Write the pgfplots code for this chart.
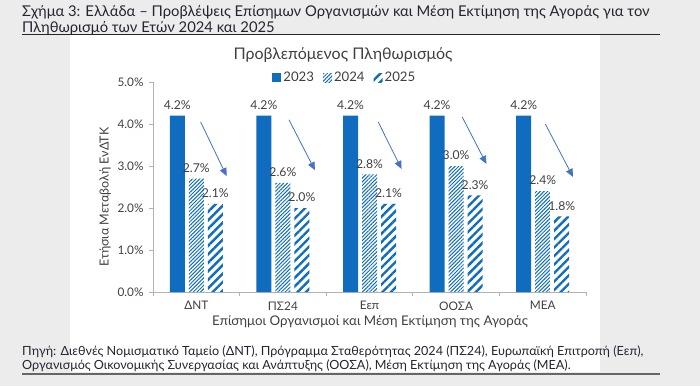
\documentclass[border=0pt]{standalone}
\usepackage{fontspec}
\setmainfont{Lato}
\usepackage{pgfplots}
\pgfplotsset{compat=1.18}
\usetikzlibrary{patterns.meta,arrows.meta}
\definecolor{barblue}{RGB}{16,108,190}
\definecolor{arrowblue}{RGB}{68,114,196}
\definecolor{bggray}{RGB}{236,236,236}
\definecolor{txtgray}{RGB}{64,64,64}
\definecolor{titletxt}{RGB}{35,38,48}
\begin{document}
\begin{tikzpicture}
\fill[bggray] (0pt,0pt) rectangle (700pt,386pt);
\fill[white] (70pt,14pt) rectangle (600pt,352pt);
\draw[black!85, line width=0.8pt] (22pt,352pt) -- (660pt,352pt);
\draw[black!60, line width=1.3pt] (22pt,12pt) -- (660pt,12pt);
\node[anchor=west, inner sep=0pt, text=titletxt, font=\fontsize{14.8}{16}\selectfont] at (22pt,374pt) {Σχήμα 3: Ελλάδα – Προβλέψεις Επίσημων Οργανισμών και Μέση Εκτίμηση της Αγοράς για τον};
\node[anchor=west, inner sep=0pt, text=titletxt, font=\fontsize{14.8}{16}\selectfont] at (22pt,358pt) {Πληθωρισμό των Ετών 2024 και 2025};
\node[anchor=west, inner sep=0pt, text=titletxt, font=\fontsize{12.6}{14}\selectfont] at (22pt,34pt) {Πηγή: Διεθνές Νομισματικό Ταμείο (ΔΝΤ), Πρόγραμμα Σταθερότητας 2024 (ΠΣ24), Ευρωπαϊκή Επιτροπή (Εεπ),};
\node[anchor=west, inner sep=0pt, text=titletxt, font=\fontsize{12.6}{14}\selectfont] at (22pt,20pt) {Οργανισμός Οικονομικής Συνεργασίας και Ανάπτυξης (ΟΟΣΑ), Μέση Εκτίμηση της Αγοράς (ΜΕΑ).};
\node[inner sep=0pt, text=txtgray, font=\fontsize{16}{18}\selectfont] at (343pt,331pt) {Προβλεπόμενος Πληθωρισμός};
\node[inner sep=0pt, text=txtgray, rotate=90, font=\fontsize{12.5}{14}\selectfont] at (105pt,189pt) {Ετήσια Μεταβολή ΕνΔΤΚ};
\node[inner sep=0pt, text=txtgray, font=\fontsize{13.3}{15}\selectfont] at (370pt,64pt) {Επίσημοι Οργανισμοί και Μέση Εκτίμηση της Αγοράς};
\begin{axis}[
  at={(153pt,94pt)}, anchor=south west,
  scale only axis, width=433pt, height=210pt,
  xmin=-0.5, xmax=4.5, ymin=0, ymax=5,
  axis x line*=bottom, axis y line*=left,
  axis line style={draw=black!30, line width=0.7pt},
  xtick={0,1,2,3,4},
  xticklabels={ΔΝΤ,ΠΣ24,Εεπ,ΟΟΣΑ,ΜΕΑ},
  major x tick style={draw=none},
  minor xtick={-0.5,0.5,1.5,2.5,3.5,4.5},
  minor tick length=4pt,
  minor x tick style={draw=black!30, line width=0.7pt},
  ytick={0,1,2,3,4,5},
  ytick style={draw=black!30, line width=0.7pt},
  tick align=outside, major tick length=4pt,
  yticklabel={\pgfmathprintnumber[fixed,fixed zerofill,precision=1]{\tick}\%},
  /pgf/number format/assume math mode=true,
  ticklabel style={text=txtgray, font=\fontsize{11.8}{13}\selectfont},
  xticklabel style={yshift=-2pt},
  yticklabel style={xshift=-2pt},
  ybar, bar width=15pt,
  clip=false,
  nodes near coords={\pgfmathprintnumber[fixed,fixed zerofill,precision=1]{\pgfplotspointmeta}\%},
  every node near coord/.append style={text=txtgray, font=\fontsize{12.2}{14}\selectfont, inner sep=1pt, yshift=5pt},
  legend style={at={(0.443,1.02)}, anchor=center, draw=none, fill=none, legend columns=3,
    font=\fontsize{13.2}{15}\selectfont, text=txtgray,
    /tikz/every even column/.append style={column sep=7pt}},
  legend image code/.code={\fill[#1] (0pt,-4.5pt) rectangle (9pt,4.5pt);},
]
\addplot[fill=barblue, draw=none, bar shift=-19pt] coordinates {(0,4.2) (1,4.2) (2,4.2) (3,4.2) (4,4.2)};
\addplot[pattern={Lines[angle=45,distance=2.6pt,line width=1pt]}, pattern color=barblue, draw=none, bar shift=0pt] coordinates {(0,2.7) (1,2.6) (2,2.8) (3,3.0) (4,2.4)};
\addplot[pattern={Lines[angle=45,distance=6pt,line width=2.4pt]}, pattern color=barblue, draw=none, bar shift=19pt] coordinates {(0,2.1) (1,2.0) (2,2.1) (3,2.3) (4,1.8)};
\legend{2023,2024,2025}
\draw[arrowblue, line width=0.8pt, -{Triangle[length=8pt,width=7pt]}] (axis cs:0.05,4.05) -- (axis cs:0.35,2.76);
\draw[arrowblue, line width=0.8pt, -{Triangle[length=8pt,width=7pt]}] (axis cs:1.07,4.1) -- (axis cs:1.37,2.9);
\draw[arrowblue, line width=0.8pt, -{Triangle[length=8pt,width=7pt]}] (axis cs:2.1,4.05) -- (axis cs:2.37,2.93);
\draw[arrowblue, line width=0.8pt, -{Triangle[length=8pt,width=7pt]}] (axis cs:3.07,4.17) -- (axis cs:3.35,3.05);
\draw[arrowblue, line width=0.8pt, -{Triangle[length=8pt,width=7pt]}] (axis cs:4.03,4.0) -- (axis cs:4.35,2.74);
\end{axis}
\end{tikzpicture}
\end{document}
